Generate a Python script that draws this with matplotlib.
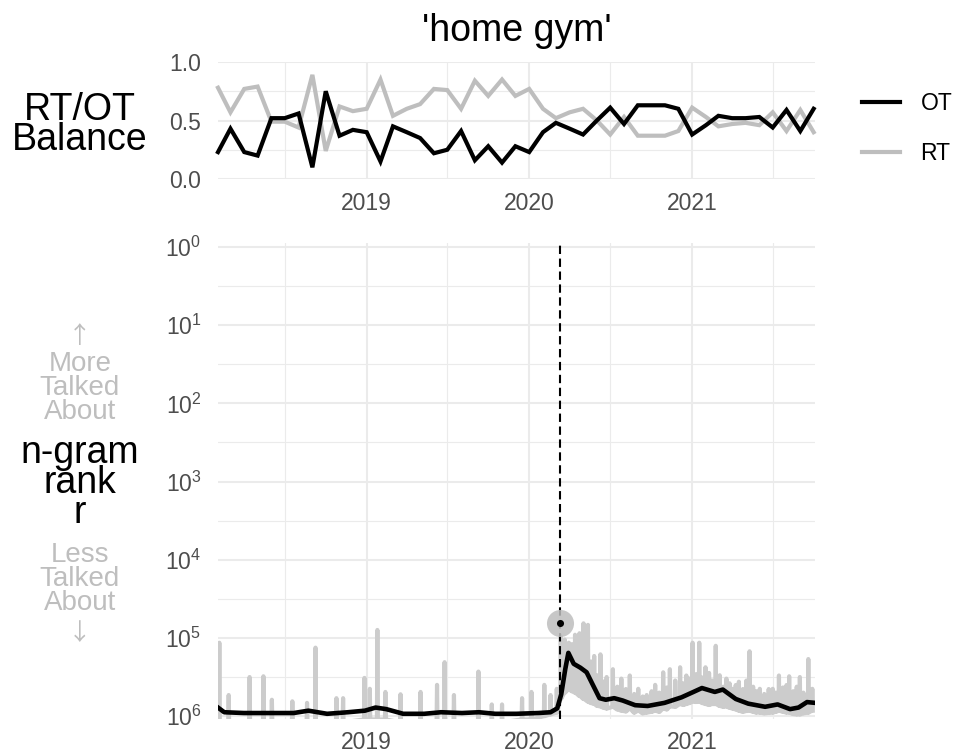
import matplotlib
matplotlib.use("Agg")
import matplotlib.pyplot as plt
from matplotlib.lines import Line2D
import pandas as pd

plt.rcParams['font.family'] = ['Liberation Sans', 'DejaVu Sans']
plt.rcParams['mathtext.fontset'] = 'custom'
plt.rcParams['mathtext.rm'] = 'Liberation Sans'
plt.rcParams['mathtext.it'] = 'Liberation Sans'

# ---------------- data ----------------
title = "'home gym'"

# monthly RT/OT balance, Feb 2018 .. Oct 2021
month_start = "2018-02-01"
ot_balance = [0.23, 0.43, 0.23, 0.20, 0.52, 0.52, 0.56, 0.10, 0.75, 0.37, 0.42,
              0.40, 0.15, 0.45, 0.40, 0.35, 0.22, 0.25, 0.41, 0.16, 0.28, 0.14, 0.28,
              0.23, 0.40, 0.48, 0.43, 0.38, 0.50, 0.61, 0.47, 0.63, 0.63, 0.63, 0.60,
              0.38, 0.46, 0.54, 0.52, 0.52, 0.53, 0.44, 0.59, 0.41, 0.60]
rt_balance = [0.78, 0.57, 0.77, 0.79, 0.49, 0.49, 0.44, 0.89, 0.24, 0.62, 0.58,
              0.60, 0.85, 0.54, 0.60, 0.64, 0.77, 0.76, 0.60, 0.84, 0.71, 0.85, 0.71,
              0.77, 0.60, 0.52, 0.57, 0.60, 0.50, 0.38, 0.53, 0.37, 0.37, 0.37, 0.41,
              0.61, 0.53, 0.45, 0.47, 0.48, 0.46, 0.57, 0.41, 0.59, 0.40]

# smoothed rank (black line)
smooth_dates = ["2018-02-01", "2018-02-15", "2018-03-31", "2018-05-26", "2018-07-21",
                "2018-08-23", "2018-10-04", "2018-11-20", "2018-12-28", "2019-01-21",
                "2019-02-14", "2019-03-24", "2019-05-10", "2019-06-17", "2019-08-03",
                "2019-09-10", "2019-10-17", "2019-12-03", "2020-01-21", "2020-02-18",
                "2020-03-04", "2020-03-13", "2020-03-22", "2020-03-29", "2020-04-10",
                "2020-04-25", "2020-05-09", "2020-05-23", "2020-06-07", "2020-06-21",
                "2020-07-10", "2020-07-29", "2020-08-26", "2020-09-23", "2020-10-31",
                "2020-12-08", "2021-01-04", "2021-01-23", "2021-02-21", "2021-03-11",
                "2021-04-09", "2021-05-07", "2021-06-14", "2021-07-12", "2021-08-09",
                "2021-08-28", "2021-09-16", "2021-10-04"]
smooth_rank = [776000, 891000, 912000, 912000, 912000,
               851000, 933000, 891000, 851000, 776000,
               813000, 933000, 933000, 891000, 912000,
               891000, 933000, 933000, 912000, 891000,
               794000, 525000, 251000, 155000, 214000,
               240000, 275000, 398000, 589000, 617000,
               589000, 631000, 724000, 741000, 676000,
               575000, 490000, 437000, 490000, 457000,
               603000, 692000, 759000, 708000, 813000,
               776000, 661000, 676000]

# daily rank spikes (grey line)
spike_dates = ["2018-02-04", "2018-02-25", "2018-04-13", "2018-05-14", "2018-06-02",
               "2018-07-18", "2018-08-20", "2018-09-08", "2018-10-25", "2018-11-09",
               "2018-12-27", "2019-01-08", "2019-01-25", "2019-02-12", "2019-03-18",
               "2019-05-02", "2019-06-08", "2019-06-25", "2019-07-16", "2019-09-09",
               "2019-10-09", "2019-11-01", "2019-12-16", "2020-01-06", "2020-02-04",
               "2020-02-18", "2020-03-03", "2020-03-12", "2020-03-21", "2020-03-30",
               "2020-04-06", "2020-04-13", "2020-04-23", "2020-05-02", "2020-05-12",
               "2020-05-19", "2020-05-26", "2020-06-02", "2020-06-09", "2020-06-16",
               "2020-06-23", "2020-07-07", "2020-07-17", "2020-07-26", "2020-08-05",
               "2020-08-14", "2020-08-24", "2020-09-02", "2020-09-12", "2020-09-21",
               "2020-10-02", "2020-10-10", "2020-10-19", "2020-10-28", "2020-11-05",
               "2020-11-12", "2020-11-24", "2020-12-05", "2020-12-12", "2020-12-19",
               "2020-12-26", "2021-01-02", "2021-01-10", "2021-01-17", "2021-01-24",
               "2021-01-31", "2021-02-08", "2021-02-15", "2021-02-23", "2021-03-04",
               "2021-03-12", "2021-03-19", "2021-03-26", "2021-04-02", "2021-04-09",
               "2021-04-16", "2021-04-25", "2021-05-03", "2021-05-10", "2021-05-18",
               "2021-05-25", "2021-06-02", "2021-06-12", "2021-06-22", "2021-07-01",
               "2021-07-08", "2021-07-15", "2021-07-24", "2021-08-01", "2021-08-07",
               "2021-08-16", "2021-08-24", "2021-08-31", "2021-09-08", "2021-09-19",
               "2021-09-28"]
spike_rank = [115000, 537000, 316000, 309000, 617000,
              646000, 676000, 133000, 589000, 589000,
              324000, 447000, 79000, 490000, 525000,
              490000, 398000, 204000, 537000, 269000,
              708000, 708000, 589000, 490000, 398000,
              537000, 447000, 95000, 105000, 115000,
              120000, 91000, 87000, 65000, 68000,
              200000, 170000, 300000, 162000, 360000,
              316000, 251000, 420000, 331000, 450000,
              302000, 520000, 447000, 560000, 537000,
              480000, 398000, 500000, 275000, 430000,
              251000, 350000, 237000, 380000, 302000,
              330000, 115000, 290000, 115000, 320000,
              237000, 280000, 350000, 126000, 300000,
              420000, 331000, 380000, 447000, 400000,
              363000, 450000, 350000, 148000, 420000,
              480000, 447000, 520000, 450000, 447000,
              500000, 302000, 430000, 400000, 309000,
              480000, 420000, 316000, 500000, 186000,
              447000]
spike_floor = [1200000, 1200000, 1200000, 1200000, 1200000,
               1200000, 1200000, 1200000, 1200000, 1200000,
               1100000, 1100000, 1100000, 1100000, 1200000,
               1200000, 1200000, 1200000, 1200000, 1200000,
               1200000, 1200000, 1100000, 1100000, 1000000,
               950000, 900000, 600000, 500000, 450000,
               480000, 500000, 550000, 600000, 650000,
               680000, 700000, 740000, 750000, 780000,
               800000, 760000, 820000, 850000, 870000,
               800000, 900000, 850000, 920000, 900000,
               880000, 850000, 880000, 800000, 820000,
               750000, 760000, 700000, 720000, 700000,
               680000, 650000, 660000, 650000, 680000,
               700000, 720000, 700000, 700000, 740000,
               760000, 750000, 780000, 800000, 820000,
               850000, 880000, 860000, 850000, 880000,
               900000, 900000, 920000, 910000, 900000,
               880000, 850000, 880000, 900000, 900000,
               940000, 950000, 950000, 920000, 900000,
               850000]

event_date = "2020-03-11"
event_rank = 65000

x_start, x_end = "2018-02-01", "2021-10-04"

# ---------------- figure ----------------
W, H = 956, 755
fig = plt.figure(figsize=(W / 100, H / 100), dpi=100)


def fx(px):
    return px / W


def fy(py):
    return 1 - py / H


ax1 = fig.add_axes([fx(218), fy(179), fx(815) - fx(218), (179 - 62) / H])
ax2 = fig.add_axes([fx(218), fy(718.5), fx(815) - fx(218), (718.5 - 243.1) / H])

tick_color = '#4D4D4D'
grid_color = '#EBEBEB'
grey_top = '#BEBEBE'
grey_bot = '#CCCCCC'
label_grey = '#BEBEBE'
fs_tick = 16.5

months = pd.date_range(month_start, periods=len(ot_balance), freq='MS')
xl = (pd.Timestamp(x_start), pd.Timestamp(x_end))

year_ticks = [pd.Timestamp(f"{y}-01-01") for y in (2019, 2020, 2021)]
half_ticks = [pd.Timestamp(f"{y}-07-01") for y in (2018, 2019, 2020, 2021)]

for ax in (ax1, ax2):
    for s in ax.spines.values():
        s.set_visible(False)
    ax.set_xlim(*xl)
    ax.set_xticks(year_ticks)
    ax.set_xticklabels(['2019', '2020', '2021'])
    ax.set_xticks(half_ticks, minor=True)
    ax.tick_params(axis='both', which='both', length=0, labelsize=fs_tick,
                   labelcolor=tick_color)
    ax.tick_params(axis='x', pad=9)
    ax.tick_params(axis='y', pad=12)
    ax.grid(True, which='major', color=grid_color, lw=1.5)
    ax.grid(True, which='minor', color=grid_color, lw=0.8)
    ax.set_axisbelow(True)

# top panel
ax1.set_ylim(0, 1)
ax1.set_yticks([0, 0.5, 1.0])
ax1.set_yticklabels(['0.0', '0.5', '1.0'])
ax1.set_yticks([0.25, 0.75], minor=True)
ax1.plot(months, ot_balance, color='black', lw=3, solid_joinstyle='miter',
         label='OT', clip_on=False, zorder=3)
ax1.plot(months, rt_balance, color=grey_top, lw=3, solid_joinstyle='miter',
         label='RT', clip_on=False, zorder=2)

# bottom panel
ax2.set_yscale('log')
ax2.set_ylim(10 ** 6.03, 10 ** -0.05)
ax2.set_yticks([10.0 ** k for k in range(7)])
ax2.set_yticklabels([r'$\mathregular{10^{%d}}$' % k for k in range(7)])
ax2.set_yticks([10.0 ** (k + 0.5) for k in range(6)], minor=True)
ax2.yaxis.set_minor_formatter(matplotlib.ticker.NullFormatter())

gx, gy = [], []
for d, r, f in zip(spike_dates, spike_rank, spike_floor):
    t = pd.Timestamp(d)
    gx += [t - pd.Timedelta(days=1), t, t + pd.Timedelta(days=1)]
    gy += [f, r, f]
ax2.plot(gx, gy, color=grey_bot, lw=3, zorder=2)
ax2.plot(pd.to_datetime(smooth_dates), smooth_rank, color='black', lw=3.3, zorder=3)
ax2.axvline(pd.Timestamp(event_date), color='black', lw=1.5,
            linestyle=(0, (4, 2.2)), zorder=4)
ax2.scatter([pd.Timestamp(event_date)], [event_rank], s=380, color='#BEBEBE',
            alpha=0.85, zorder=4, linewidths=0)
ax2.scatter([pd.Timestamp(event_date)], [event_rank], s=26, color='black', zorder=5,
            linewidths=0)

# title
fig.text(fx(516.5), fy(31), title, ha='center', va='center', fontsize=27)

# left labels
arrow_family = ['Noto Sans CJK JP', 'DejaVu Sans']
fig.text(fx(80), fy(337), "\u2191", ha='center', va='center',
         fontsize=17, color=label_grey, family=arrow_family)
fig.text(fx(80), fy(125), "RT/OT\nBalance", ha='center', va='center',
         fontsize=27, linespacing=0.8)
fig.text(fx(80), fy(388), "More\nTalked\nAbout", ha='center', va='center',
         fontsize=20, color=label_grey, linespacing=0.88)
fig.text(fx(80), fy(483), "n-gram\nrank\nr", ha='center', va='center',
         fontsize=27, linespacing=0.8)
fig.text(fx(80), fy(579), "Less\nTalked\nAbout", ha='center', va='center',
         fontsize=20, color=label_grey, linespacing=0.88)
fig.text(fx(80), fy(634), "\u2193", ha='center', va='center',
         fontsize=17, color=label_grey, family=arrow_family)

# legend
handles = [Line2D([], [], color='black', lw=3), Line2D([], [], color=grey_top, lw=3)]
fig.legend(handles, ['OT', 'RT'], loc='upper left',
           bbox_to_anchor=(fx(862), fy(92)), frameon=False, fontsize=fs_tick,
           handlelength=1.65, handletextpad=0.9, labelspacing=1.2, borderpad=0,
           borderaxespad=0)

fig.savefig('out.png', dpi=100)
